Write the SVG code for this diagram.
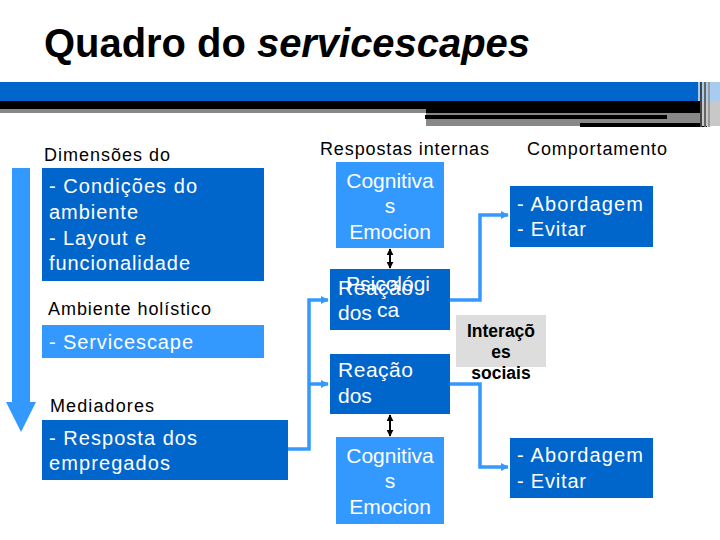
<svg xmlns="http://www.w3.org/2000/svg" width="720" height="540" viewBox="0 0 720 540">
<style>
.t{font-family:"Liberation Sans",Arial,sans-serif;}
.lbl{font-size:18px;fill:#000;}
.bx{font-size:20px;fill:#fff;}
.bm{font-size:21px;fill:#fff;}
.dark{fill:#0066CC;}
.light{fill:#3399FF;}
.conn{fill:none;stroke:#3399FF;stroke-width:3.5;}
.dbl{stroke:#000;stroke-width:2;}
.soc{font-size:17.5px;font-weight:bold;fill:#000;}
</style>
<defs>
<marker id="ab" viewBox="0 0 10 10" refX="9" refY="5" markerWidth="8" markerHeight="8" markerUnits="userSpaceOnUse" orient="auto">
<path d="M0,0 L10,5 L0,10 z" fill="#3399FF"/>
</marker>
<marker id="ak" viewBox="0 0 10 10" refX="9" refY="5" markerWidth="7" markerHeight="7" markerUnits="userSpaceOnUse" orient="auto-start-reverse">
<path d="M0,0 L10,5 L0,10 z" fill="#000"/>
</marker>
</defs>
<rect width="720" height="540" fill="#fff"/>
<g id="header">
<text class="t" x="44" y="57" font-size="40" font-weight="bold" textLength="486" lengthAdjust="spacingAndGlyphs">Quadro do <tspan font-style="italic">servicescapes</tspan></text>
<rect x="0" y="82" width="698" height="19" fill="#0066CC"/>
<rect x="698" y="82" width="22" height="19" fill="#A8CCF0"/>
<rect x="0" y="101" width="700" height="8" fill="#000"/>
<rect x="0" y="109" width="426" height="4" fill="#888"/>
<rect x="426" y="109" width="274" height="4" fill="#000"/>
<rect x="426" y="113" width="274" height="2" fill="#888"/>
<rect x="425" y="115" width="242" height="4" fill="#000"/>
<rect x="667" y="115" width="33" height="4" fill="#888"/>
<rect x="426" y="119" width="274" height="7" fill="#888"/>
<rect x="580" y="123" width="127" height="4" fill="#000"/>
<rect x="700" y="101" width="20" height="25" fill="#C8C8C8"/>
<rect x="700" y="82" width="2" height="45" fill="#444"/>
<rect x="704" y="82" width="2" height="45" fill="#666"/>
<rect x="708" y="82" width="2" height="45" fill="#999"/>
</g>
<g id="flow-arrow">
<polygon points="12,168 30,168 30,402 36,402 21,432 6,402 12,402" fill="#3399FF"/>
</g>
<g id="labels">
<text class="t lbl" x="44" y="161" textLength="126" lengthAdjust="spacing">Dimensões do</text>
<text class="t lbl" x="320" y="155" textLength="169" lengthAdjust="spacing">Respostas internas</text>
<text class="t lbl" x="527" y="155" textLength="140" lengthAdjust="spacing">Comportamento</text>
<text class="t lbl" x="48" y="315" textLength="163" lengthAdjust="spacing">Ambiente holístico</text>
<text class="t lbl" x="50" y="412" textLength="104" lengthAdjust="spacing">Mediadores</text>
</g>
<g id="connectors">
<path class="conn" d="M288,449 H309 V300 H328" marker-end="url(#ab)"/>
<path class="conn" d="M309,384 H328" marker-end="url(#ab)"/>
<path class="conn" d="M450,300 H480 V215 H508" marker-end="url(#ab)"/>
<path class="conn" d="M450,384 H480 V467 H508" marker-end="url(#ab)"/>
<line class="dbl" x1="390" y1="249" x2="390" y2="268" marker-start="url(#ak)" marker-end="url(#ak)"/>
<line class="dbl" x1="390" y1="415" x2="390" y2="436" marker-start="url(#ak)" marker-end="url(#ak)"/>
</g>
<g id="n-dimensoes">
<rect class="dark" x="42" y="168" width="222" height="113"/>
<text class="t bx" x="49" y="193" textLength="148" lengthAdjust="spacing">- Condições do</text>
<text class="t bx" x="49" y="219" textLength="89" lengthAdjust="spacing">ambiente</text>
<text class="t bx" x="49" y="245" textLength="97" lengthAdjust="spacing">- Layout e</text>
<text class="t bx" x="49" y="270" textLength="141" lengthAdjust="spacing">funcionalidade</text>
</g>
<g id="n-servicescape">
<rect class="light" x="42" y="325" width="222" height="33"/>
<text class="t bx" x="49" y="349" textLength="144" lengthAdjust="spacing">- Servicescape</text>
</g>
<g id="n-mediadores">
<rect class="dark" x="42" y="420" width="246" height="60"/>
<text class="t bx" x="49" y="445" textLength="148" lengthAdjust="spacing">- Resposta dos</text>
<text class="t bx" x="49" y="470" textLength="121" lengthAdjust="spacing">empregados</text>
</g>
<g id="n-cog1">
<rect class="light" x="336" y="162" width="108" height="86"/>
<text class="t bm" x="390" y="188" text-anchor="middle">Cognitiva</text>
<text class="t bm" x="390" y="213" text-anchor="middle">s</text>
<text class="t bm" x="390" y="239" text-anchor="middle">Emocion</text>
</g>
<g id="n-psico">
<rect class="dark" x="330" y="269" width="120" height="61"/>
<text class="t bm" x="338" y="295" textLength="75" lengthAdjust="spacing">Reação</text>
<text class="t bm" x="338" y="320">dos</text>
<text class="t bm" x="388" y="291" text-anchor="middle">Psicológi</text>
<text class="t bm" x="388" y="317" text-anchor="middle">ca</text>
</g>
<g id="n-interacoes">
<rect x="456" y="315" width="90" height="52" fill="#DDDDDD"/>
<text class="t soc" x="501" y="337" text-anchor="middle">Interaçõ</text>
<text class="t soc" x="501" y="358" text-anchor="middle">es</text>
<text class="t soc" x="501" y="379" text-anchor="middle">sociais</text>
</g>
<g id="n-reacao">
<rect class="dark" x="330" y="354" width="120" height="60"/>
<text class="t bm" x="338" y="377" textLength="75" lengthAdjust="spacing">Reação</text>
<text class="t bm" x="338" y="403">dos</text>
</g>
<g id="n-cog2">
<rect class="light" x="336" y="437" width="108" height="87"/>
<text class="t bm" x="390" y="463" text-anchor="middle">Cognitiva</text>
<text class="t bm" x="390" y="488" text-anchor="middle">s</text>
<text class="t bm" x="390" y="514" text-anchor="middle">Emocion</text>
</g>
<g id="n-comp1">
<rect class="dark" x="510" y="186" width="143" height="61"/>
<text class="t bx" x="517" y="211" textLength="126" lengthAdjust="spacing">- Abordagem</text>
<text class="t bx" x="517" y="236" textLength="69" lengthAdjust="spacing">- Evitar</text>
</g>
<g id="n-comp2">
<rect class="dark" x="510" y="438" width="143" height="60"/>
<text class="t bx" x="517" y="462" textLength="126" lengthAdjust="spacing">- Abordagem</text>
<text class="t bx" x="517" y="488" textLength="69" lengthAdjust="spacing">- Evitar</text>
</g>
</svg>
